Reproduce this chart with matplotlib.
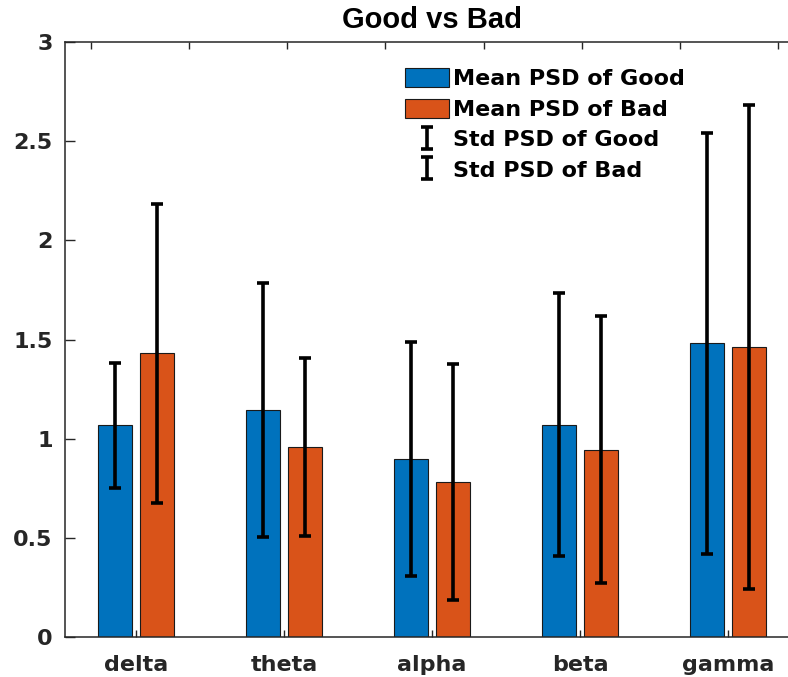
import numpy as np
import matplotlib
matplotlib.use("Agg")
import matplotlib.pyplot as plt

# mean / std of PSD per band
bands = ["delta", "theta", "alpha", "beta", "gamma"]
good_mean = [1.067, 1.143, 0.897, 1.069, 1.481]
good_std = [0.316, 0.640, 0.589, 0.663, 1.062]
bad_mean = [1.430, 0.958, 0.782, 0.943, 1.461]
bad_std = [0.752, 0.448, 0.593, 0.673, 1.220]

blue = "#0072BD"
orange = "#D95319"
axcol = "#262626"

fig = plt.figure(figsize=(7.88, 6.77), dpi=100)
W, H = 788, 677
ax = fig.add_axes([65 / W, 40 / H, 734 / W, 595 / H])

x = np.arange(1, len(bands) + 1)
off = 0.143
bw = 0.23

ax.bar(x - off, good_mean, bw, color=blue, edgecolor="#1a1a1a", linewidth=0.8,
       label="Mean PSD of Good", zorder=2)
ax.bar(x + off, bad_mean, bw, color=orange, edgecolor="#1a1a1a", linewidth=0.8,
       label="Mean PSD of Bad", zorder=2)
ax.errorbar(x - off, good_mean, yerr=good_std, fmt="none", ecolor="black",
            elinewidth=2.6, capsize=4.5, capthick=2.6, label="Std PSD of Good", zorder=3)
ax.errorbar(x + off, bad_mean, yerr=bad_std, fmt="none", ecolor="black",
            elinewidth=2.6, capsize=4.5, capthick=2.6, label="Std PSD of Bad", zorder=3)

ax.set_xlim(0.52, 5.48)
ax.set_ylim(0, 3)
ax.set_xticks(x)
ax.set_xticklabels(bands)
ax.set_yticks([0, 0.5, 1, 1.5, 2, 2.5, 3])
ax.set_yticklabels(["0", "0.5", "1", "1.5", "2", "2.5", "3"])

for lab in ax.get_xticklabels() + ax.get_yticklabels():
    lab.set_fontfamily("DejaVu Sans")
    lab.set_fontweight("bold")
    lab.set_fontsize(16)
    lab.set_color(axcol)

ax.tick_params(axis="x", direction="in", length=5, width=1, color=axcol, pad=13)
ax.tick_params(axis="y", direction="in", length=7, width=1, color=axcol, pad=9)
for s in ["left", "bottom", "top"]:
    ax.spines[s].set_color(axcol)
    ax.spines[s].set_linewidth(1.1)
ax.spines["right"].set_visible(False)

# ticks along the top edge
top = ax.twiny()
top.set_xlim(0, 1)
top.set_xticks(np.arange(0.035, 1.0, 0.1338))
top.set_xticklabels([])
top.tick_params(axis="x", direction="in", length=5, width=1, color=axcol)
for s in top.spines.values():
    s.set_visible(False)

ax.set_title("Good vs Bad", fontfamily="Liberation Sans", fontweight="bold",
             fontsize=21, pad=10)

leg = ax.legend(loc="upper left", bbox_to_anchor=(405 / W, 1 - 68 / H),
                bbox_transform=fig.transFigure, frameon=False,
                prop={"family": "DejaVu Sans", "weight": "bold", "size": 16},
                handlelength=2.0, handleheight=0.95, handletextpad=0.15,
                labelspacing=0.42, borderpad=0, borderaxespad=0)

fig.savefig("out.png", dpi=100)
